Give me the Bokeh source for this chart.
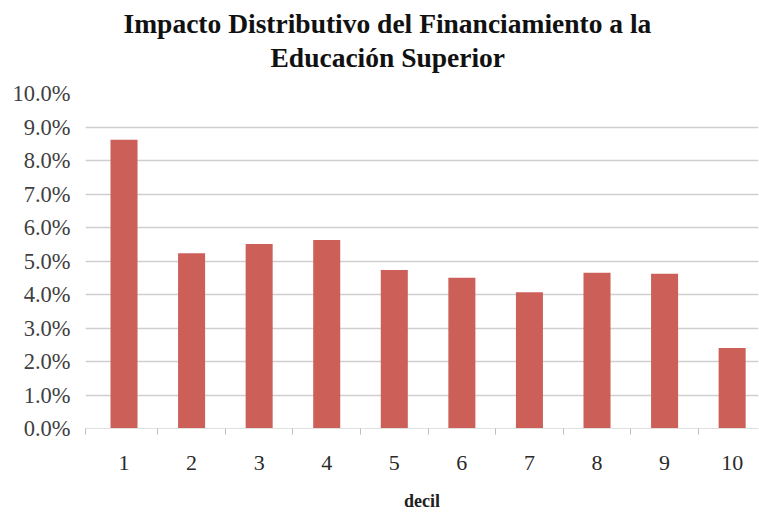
from bokeh.plotting import figure
from bokeh.models import FixedTicker, NumeralTickFormatter, Range1d, Title
from bokeh.embed import file_html
from bokeh.resources import INLINE

# Data
deciles = [1, 2, 3, 4, 5, 6, 7, 8, 9, 10]
impacto = [0.0862, 0.0523, 0.0551, 0.0563, 0.0473, 0.0450, 0.0407, 0.0465, 0.0462, 0.0240]
y_ticks = [0.0, 0.01, 0.02, 0.03, 0.04, 0.05, 0.06, 0.07, 0.08, 0.09, 0.10]
title_lines = ["Impacto Distributivo del Financiamiento a la", "Educación Superior"]
x_title = "decil"

SERIF = "Liberation Serif"
X_START, X_END = 0.43, 10.39

p = figure(width=759, height=513, output_backend="svg", toolbar_location=None,
           x_range=Range1d(X_START, X_END), y_range=Range1d(0, 0.10),
           min_border_left=85, min_border_right=1, min_border_top=93, min_border_bottom=85)
p.outline_line_color = None
p.background_fill_color = "white"

p.vbar(x=deciles, top=impacto, width=0.4, fill_color="#CC5F58", line_color=None)

# grid
p.xgrid.grid_line_color = None
p.ygrid.grid_line_color = "#CFCFCF"
p.ygrid.grid_line_width = 1.5
p.ygrid.ticker = FixedTicker(ticks=y_ticks)

# y axis
p.yaxis.ticker = FixedTicker(ticks=y_ticks)
p.yaxis.formatter = NumeralTickFormatter(format="0.0%")
p.yaxis.axis_line_color = None
p.yaxis.major_tick_line_color = None
p.yaxis.major_tick_out = 0
p.yaxis.minor_tick_line_color = None
p.yaxis.major_label_standoff = 15
p.yaxis.major_label_text_font = SERIF
p.yaxis.major_label_text_font_size = "22.5px"
p.yaxis.major_label_text_color = "#404040"

# x axis
p.xaxis.ticker = FixedTicker(ticks=deciles,
                             minor_ticks=[X_START + 0.005] + [d + 0.5 for d in deciles[:-1]])
p.xaxis.axis_line_color = "#E0E0E0"
p.xaxis.major_tick_line_color = None
p.xaxis.major_tick_out = 6
p.xaxis.minor_tick_line_color = "#BDBDBD"
p.xaxis.minor_tick_in = 0
p.xaxis.minor_tick_out = 6
p.xaxis.major_label_standoff = 21
p.xaxis.major_label_text_font = SERIF
p.xaxis.major_label_text_font_size = "22px"
p.xaxis.major_label_text_color = "#2a2a2a"
p.xaxis.axis_label = x_title
p.xaxis.axis_label_text_font = SERIF
p.xaxis.axis_label_text_font_size = "18px"
p.xaxis.axis_label_text_font_style = "bold"
p.xaxis.axis_label_text_color = "#202020"
p.xaxis.axis_label_standoff = 18

# spacer between the plot and the two-line title
p.add_layout(Title(text=" ", text_font=SERIF, text_font_size="16px", standoff=0), "above")
# two-line title (second line added first so it sits closest to the plot)
offsets = [38, 185]
for i in (1, 0):
    p.add_layout(Title(text=title_lines[i], align="left", offset=offsets[i],
                       text_font=SERIF, text_font_size="27.5px", text_font_style="bold",
                       text_color="#111111", standoff=3 if i == 1 else 0), "above")

open("out.html", "w").write(file_html(p, INLINE))
